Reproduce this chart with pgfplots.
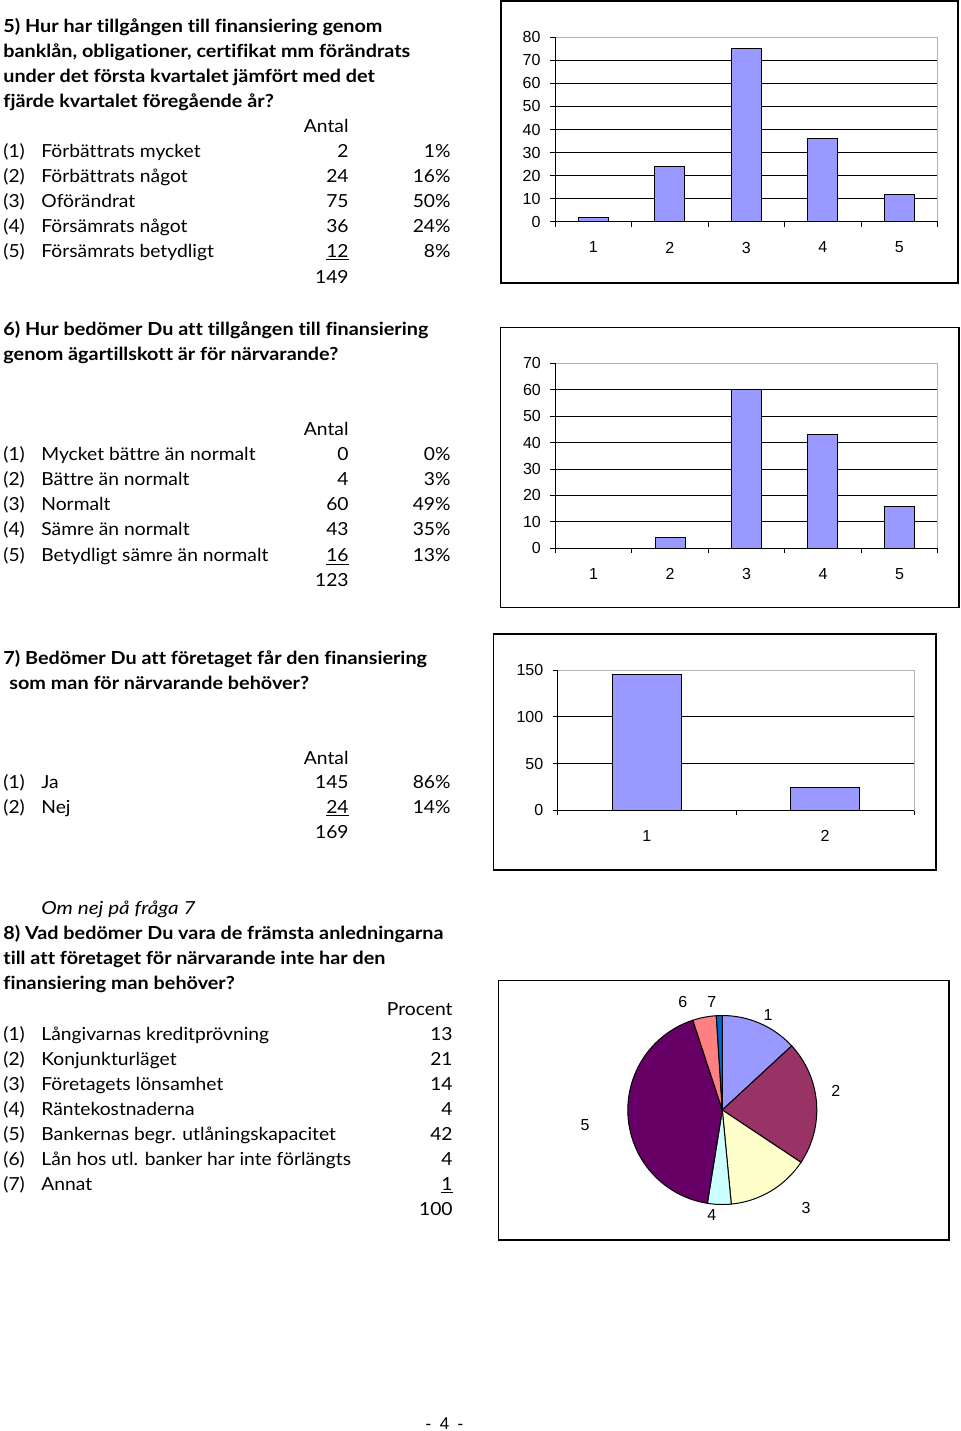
\documentclass[border=0pt]{standalone}
\usepackage{fontspec}
\setmainfont{Lato}[Ligatures=NoCommon, FakeStretch=1.07,
  BoldFeatures={FakeStretch=1.10}, ItalicFeatures={FakeStretch=1.15}]
\newfontfamily\arialf{Liberation Sans}
\usepackage{pgfplots}
\pgfplotsset{compat=1.18}

\definecolor{barblue}{HTML}{9999FF}
\definecolor{pieA}{HTML}{9999FF}
\definecolor{pieB}{HTML}{993366}
\definecolor{pieC}{HTML}{FFFFCC}
\definecolor{pieD}{HTML}{CCFFFF}
\definecolor{pieE}{HTML}{660066}
\definecolor{pieF}{HTML}{FF8080}
\definecolor{pieG}{HTML}{0066CC}

\newcommand\tx{\fontsize{9}{11}\selectfont}

\pgfplotsset{
  barchart/.style={
    scale only axis, anchor=south west, clip=false,
    ymin=0,
    axis line style={draw=gray!60, line width=0.5pt},
    ymajorgrids, grid style={black, line width=0.5pt},
    tick align=outside, tick pos=left, major tick length=2.5pt,
    tick style={black, line width=0.5pt},
    ticklabel style={font=\arialf\fontsize{8}{9}\selectfont},
    /pgf/number format/assume math mode=true,
    xticklabels={},
    y tick label style={xshift=-1.2pt},
    extra x tick style={major tick length=0pt, x tick label style={yshift=-6.6pt}},
  },
  bars/.style={ybar, fill=barblue, draw=black, line width=0.5pt},
}
\newcommand\frameaxis{%
  \draw[gray!60, line width=0.5pt] (rel axis cs:0,1) -- (rel axis cs:1,1) -- (rel axis cs:1,0);
  \draw[black, line width=0.5pt] (rel axis cs:0,1) -- (rel axis cs:0,0) -- (rel axis cs:1,0);}

\begin{document}
\begin{tikzpicture}[x=0.5pt, y=-0.5pt,
  L/.style={anchor=base west, inner sep=0, font=\tx},
  R/.style={anchor=base east, inner sep=0, font=\tx},
  B/.style={anchor=base west, inner sep=0, font=\tx\bfseries},
  P/.style={anchor=center, inner sep=0, font=\arialf\fontsize{8}{9}\selectfont}]
\useasboundingbox (0,0) rectangle (960,1431);

% ---------- question 5 ----------
\node[B] at (3,32) {5) Hur har tillgången till finansiering genom};
\node[B] at (3,57) {banklån, obligationer, certifikat mm förändrats};
\node[B] at (3,82) {under det första kvartalet jämfört med det};
\node[B] at (3,107) {fjärde kvartalet föregående år?};
\node[R] at (349,132) {Antal};
\node[L] at (3,157) {(1)}; \node[L] at (41,157) {Förbättrats mycket}; \node[R] at (349,157) {2};  \node[R] at (451,157) {1\%};
\node[L] at (3,182) {(2)}; \node[L] at (41,182) {Förbättrats något};  \node[R] at (349,182) {24}; \node[R] at (451,182) {16\%};
\node[L] at (3,207) {(3)}; \node[L] at (41,207) {Oförändrat};         \node[R] at (349,207) {75}; \node[R] at (451,207) {50\%};
\node[L] at (3,232) {(4)}; \node[L] at (41,232) {Försämrats något};   \node[R] at (349,232) {36}; \node[R] at (451,232) {24\%};
\node[L] at (3,257) {(5)}; \node[L] at (41,257) {Försämrats betydligt}; \node[R] at (349,257) {\underline{12}}; \node[R] at (451,257) {8\%};
\node[R] at (349,283) {149};

\draw[line width=0.6pt] (501,1) rectangle (958,283);
\coordinate (a1) at (555,221.7);
\begin{axis}[barchart, at={(a1)}, width=191.35pt, height=92.2pt,
  xmin=0.5, xmax=5.5, ymax=80, ytick={0,10,...,80},
  xtick={0.5,1.5,...,5.5}, extra x ticks={1,2,3,4,5}, bar width=15pt]
\addplot[bars] coordinates {(1,2) (2,24) (3,75) (4,36) (5,12)};
\frameaxis
\end{axis}

% ---------- question 6 ----------
\node[B] at (3,335) {6) Hur bedömer Du att tillgången till finansiering};
\node[B] at (3,360) {genom ägartillskott är för närvarande?};
\node[R] at (349,435) {Antal};
\node[L] at (3,460) {(1)}; \node[L] at (41,460) {Mycket bättre än normalt}; \node[R] at (349,460) {0};  \node[R] at (451,460) {0\%};
\node[L] at (3,485) {(2)}; \node[L] at (41,485) {Bättre än normalt};        \node[R] at (349,485) {4};  \node[R] at (451,485) {3\%};
\node[L] at (3,510) {(3)}; \node[L] at (41,510) {Normalt};                  \node[R] at (349,510) {60}; \node[R] at (451,510) {49\%};
\node[L] at (3,535) {(4)}; \node[L] at (41,535) {Sämre än normalt};         \node[R] at (349,535) {43}; \node[R] at (451,535) {35\%};
\node[L] at (3,561) {(5)}; \node[L] at (41,561) {Betydligt sämre än normalt}; \node[R] at (349,561) {\underline{16}}; \node[R] at (451,561) {13\%};
\node[R] at (349,586) {123};

\draw[line width=0.6pt] (500.7,327.3) rectangle (959,607.3);
\coordinate (a2) at (555.3,548.3);
\begin{axis}[barchart, at={(a2)}, width=191.2pt, height=92.5pt,
  xmin=0.5, xmax=5.5, ymax=70, ytick={0,10,...,70},
  xtick={0.5,1.5,...,5.5}, extra x ticks={1,2,3,4,5}, bar width=15pt]
\addplot[bars] coordinates {(1,0) (2,4) (3,60) (4,43) (5,16)};
\frameaxis
\end{axis}

% ---------- question 7 ----------
\node[B] at (3,664) {7) Bedömer Du att företaget får den finansiering};
\node[B] at (9,689) {som man för närvarande behöver?};
\node[R] at (349,764) {Antal};
\node[L] at (3,788) {(1)}; \node[L] at (41,788) {Ja};  \node[R] at (349,788) {145}; \node[R] at (451,788) {86\%};
\node[L] at (3,813) {(2)}; \node[L] at (41,813) {Nej}; \node[R] at (349,813) {\underline{24}}; \node[R] at (451,813) {14\%};
\node[R] at (349,838) {169};

\draw[line width=0.6pt] (493.3,634) rectangle (936,870);
\coordinate (a3) at (557.7,810.3);
\begin{axis}[barchart, at={(a3)}, width=178.3pt, height=70.15pt,
  xmin=0.5, xmax=2.5, ymax=150, ytick={0,50,100,150},
  xtick={0.5,1.5,2.5}, extra x ticks={1,2}, bar width=34.7pt]
\addplot[bars] coordinates {(1,145) (2,24)};
\frameaxis
\end{axis}

% ---------- question 8 ----------
\node[L, font=\tx\itshape] at (41,914) {Om nej på fråga 7};
\node[B] at (3,939) {8) Vad bedömer Du vara de främsta anledningarna};
\node[B] at (3,964) {till att företaget för närvarande inte har den};
\node[B] at (3,989) {finansiering man behöver?};
\node[R] at (453,1015) {Procent};
\node[L] at (3,1040) {(1)}; \node[L] at (41,1040) {Långivarnas kreditprövning};        \node[R] at (453,1040) {13};
\node[L] at (3,1065) {(2)}; \node[L] at (41,1065) {Konjunkturläget};                   \node[R] at (453,1065) {21};
\node[L] at (3,1090) {(3)}; \node[L] at (41,1090) {Företagets lönsamhet};              \node[R] at (453,1090) {14};
\node[L] at (3,1115) {(4)}; \node[L] at (41,1115) {Räntekostnaderna};                  \node[R] at (453,1115) {4};
\node[L] at (3,1140) {(5)}; \node[L] at (41,1140) {Bankernas begr. utlåningskapacitet}; \node[R] at (453,1140) {42};
\node[L] at (3,1165) {(6)}; \node[L] at (41,1165) {Lån hos utl. banker har inte förlängts}; \node[R] at (453,1165) {4};
\node[L] at (3,1190) {(7)}; \node[L] at (41,1190) {Annat};                             \node[R] at (453,1190) {\underline{1}};
\node[R] at (453,1215) {100};

\draw[line width=0.6pt] (498.3,980.7) rectangle (949,1240);
% slice boundaries: start at 12 o'clock, clockwise, shares of 99
\pgfmathsetmacro\aA{90}
\pgfmathsetmacro\aB{\aA-13*360/99}
\pgfmathsetmacro\aC{\aB-21*360/99}
\pgfmathsetmacro\aD{\aC-14*360/99}
\pgfmathsetmacro\aE{\aD-4*360/99}
\pgfmathsetmacro\aF{\aE-42*360/99}
\pgfmathsetmacro\aG{\aF-4*360/99}
\pgfmathsetmacro\aH{\aG-1*360/99}
\coordinate (a4) at (722.3,1110);
\begin{axis}[scale only axis, anchor=center, at={(a4)}, width=94.5pt, height=94.5pt,
  xmin=-1, xmax=1, ymin=-1, ymax=1, hide axis, clip=false]
\filldraw[fill=pieA, line width=0.5pt] (axis cs:0,0) -- ++(\aA:47.25pt) arc[start angle=\aA, end angle=\aB, radius=47.25pt] -- cycle;
\filldraw[fill=pieB, line width=0.5pt] (axis cs:0,0) -- ++(\aB:47.25pt) arc[start angle=\aB, end angle=\aC, radius=47.25pt] -- cycle;
\filldraw[fill=pieC, line width=0.5pt] (axis cs:0,0) -- ++(\aC:47.25pt) arc[start angle=\aC, end angle=\aD, radius=47.25pt] -- cycle;
\filldraw[fill=pieD, line width=0.5pt] (axis cs:0,0) -- ++(\aD:47.25pt) arc[start angle=\aD, end angle=\aE, radius=47.25pt] -- cycle;
\filldraw[fill=pieE, line width=0.5pt] (axis cs:0,0) -- ++(\aE:47.25pt) arc[start angle=\aE, end angle=\aF, radius=47.25pt] -- cycle;
\filldraw[fill=pieF, line width=0.5pt] (axis cs:0,0) -- ++(\aF:47.25pt) arc[start angle=\aF, end angle=\aG, radius=47.25pt] -- cycle;
\filldraw[fill=pieG, line width=0.5pt] (axis cs:0,0) -- ++(\aG:47.25pt) arc[start angle=\aG, end angle=\aH, radius=47.25pt] -- cycle;
\end{axis}
\node[P] at (768,1015) {1};
\node[P] at (835.7,1091) {2};
\node[P] at (806,1207.7) {3};
\node[P] at (711.7,1215) {4};
\node[P] at (585,1125) {5};
\node[P] at (682.7,1001.7) {6};
\node[P] at (711.7,1001.7) {7};

\node[anchor=base, inner sep=0, font=\arialf\fontsize{8.5}{10}\selectfont] at (444.5,1429) {-\enspace4\enspace-};
\end{tikzpicture}
\end{document}
